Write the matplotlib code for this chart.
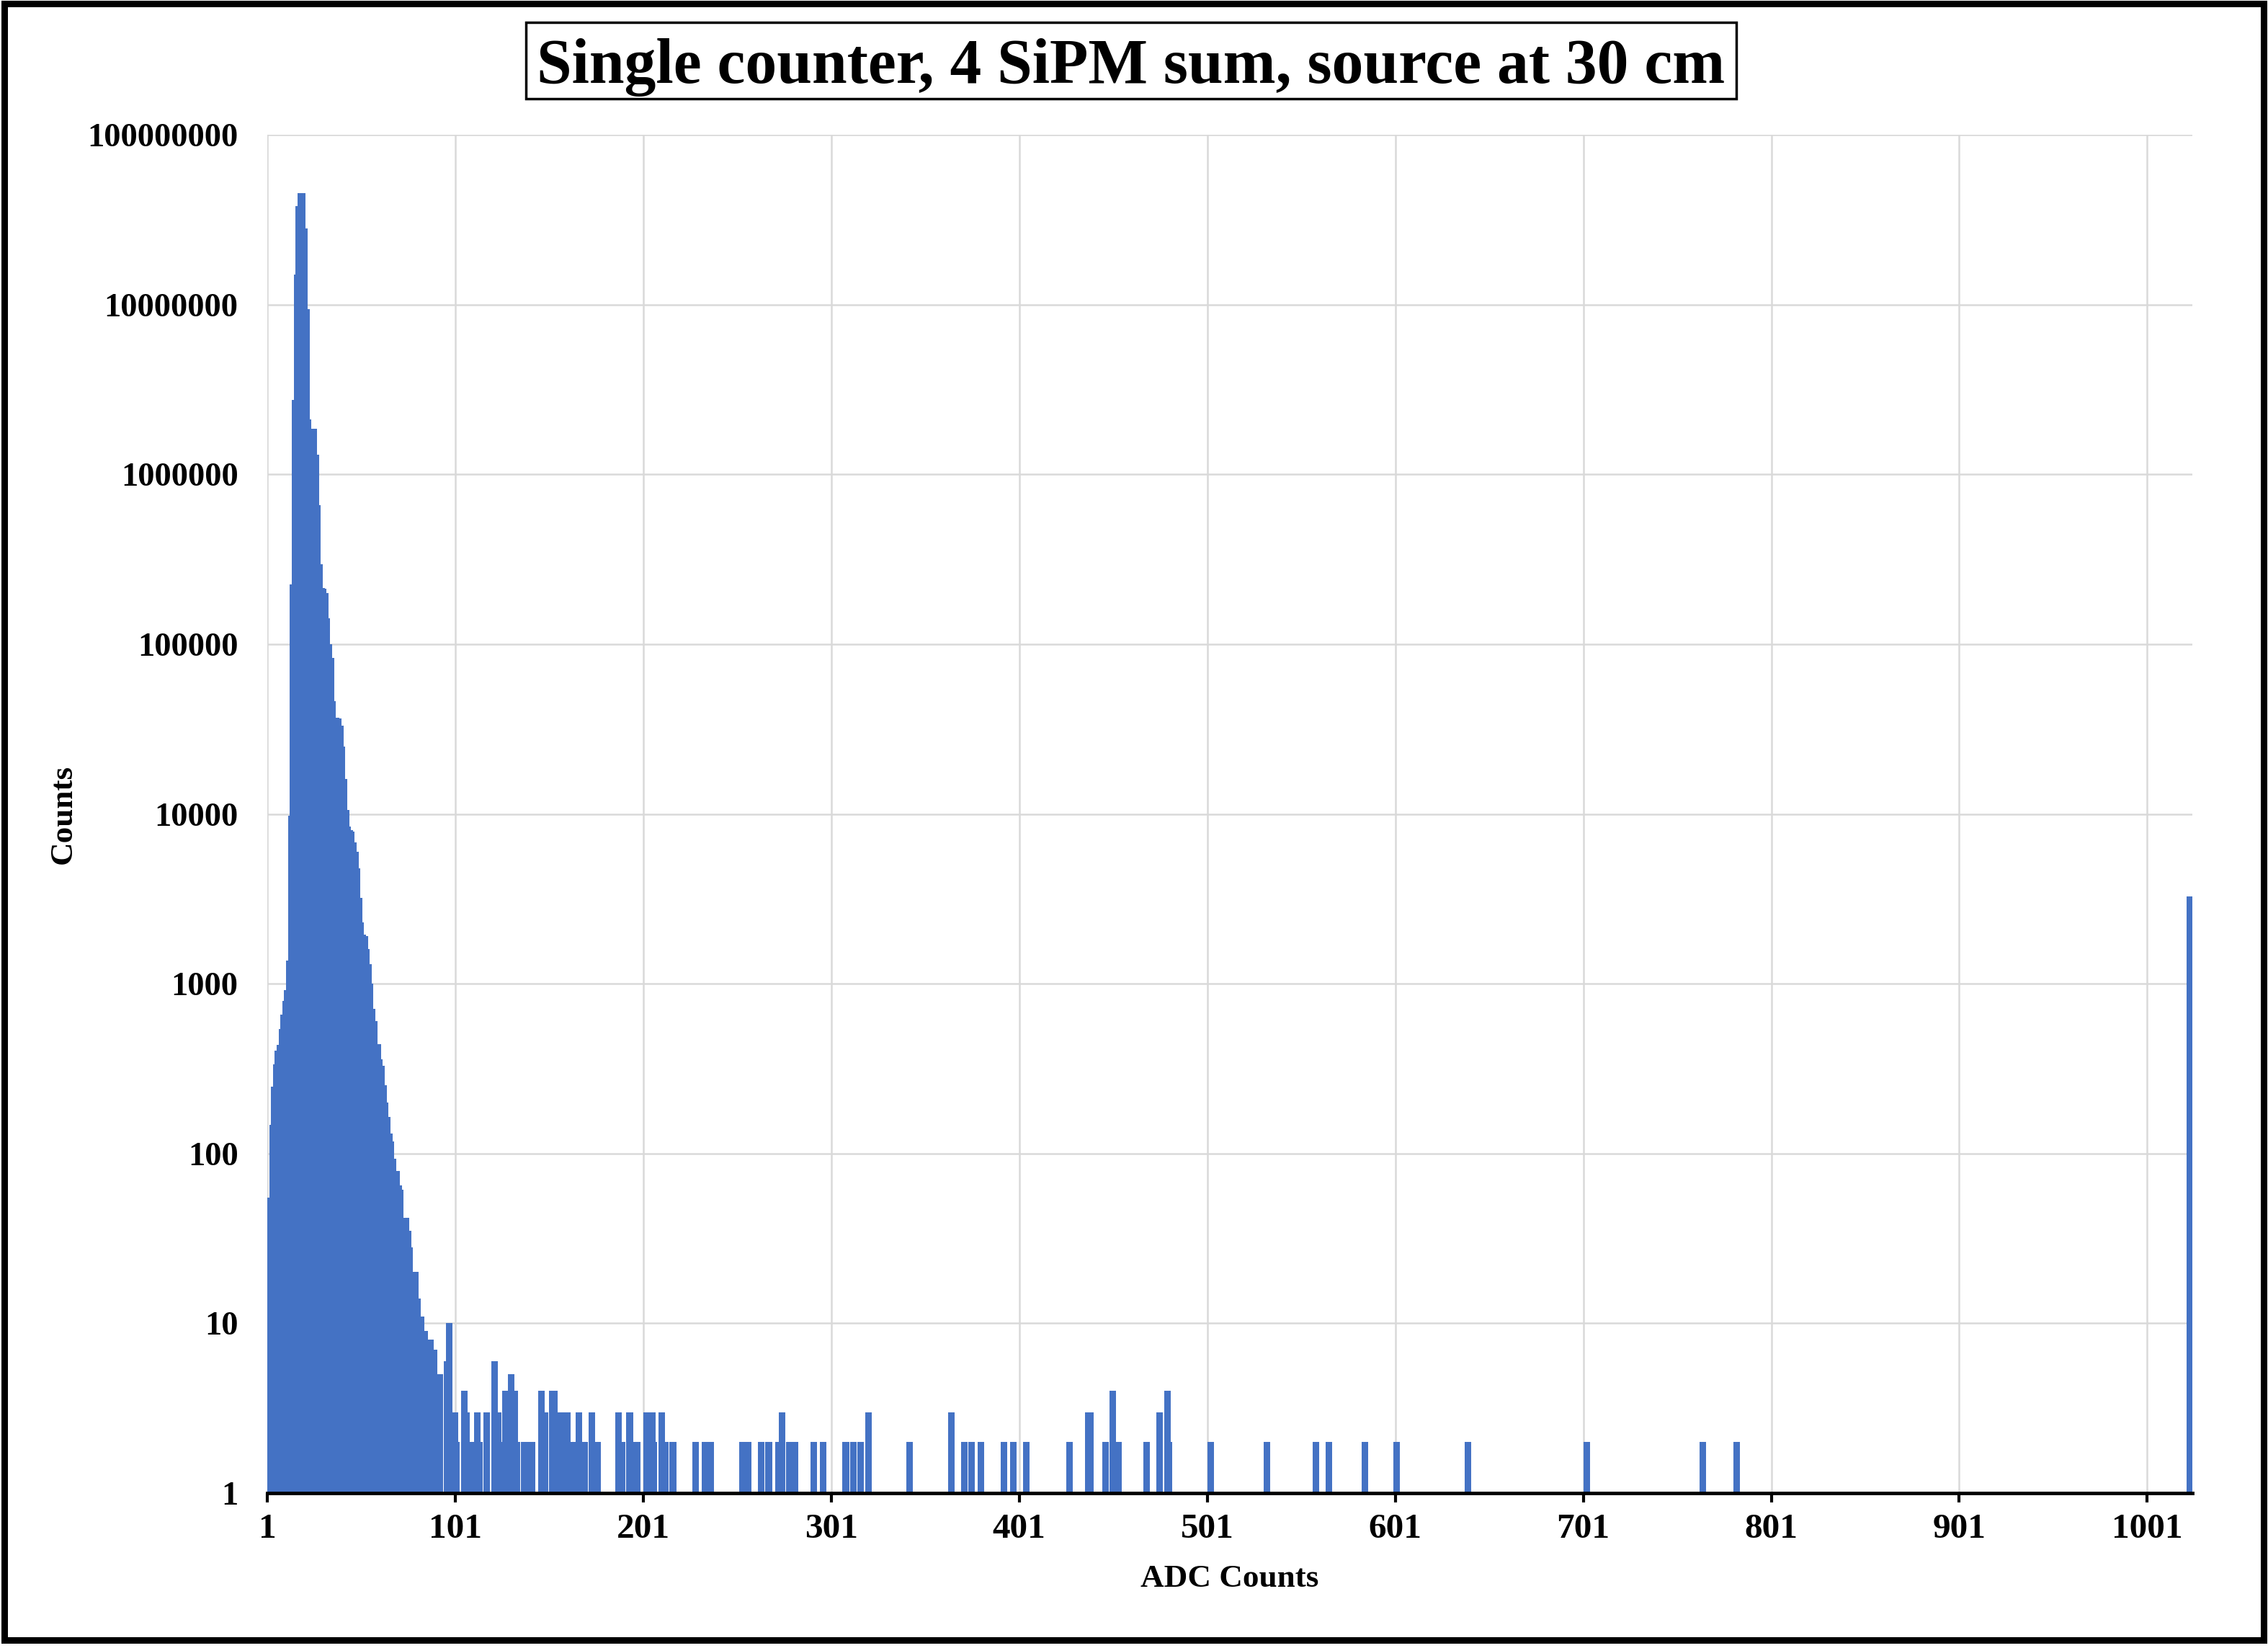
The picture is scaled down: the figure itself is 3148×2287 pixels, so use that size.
import matplotlib
matplotlib.use("Agg")
import matplotlib.pyplot as plt
import numpy as np
from matplotlib.patches import Rectangle
from matplotlib.ticker import NullLocator

plt.rcParams['font.family'] = ['Liberation Serif', 'DejaVu Serif']
plt.rcParams['font.weight'] = 'bold'

title = "Single counter, 4 SiPM sum, source at 30 cm"
x_label = "ADC Counts"
y_label = "Counts"

# counts in ADC bins 1..91 (dense part of the spectrum)
peak_counts = [55, 148, 248, 336, 403, 437, 540, 660, 790, 920,
               1370, 9800, 224000, 2740000, 15000000, 38000000, 45400000, 45400000, 28000000, 9400000,
               2100000, 1850000, 1850000, 1850000, 1310000, 660000, 296000, 214000, 212000, 200000,
               142000, 100000, 83000, 46000, 37000, 37000, 36500, 33000, 25000, 16000,
               10600, 8400, 8000, 7900, 6800, 6000, 4800, 3200, 2300, 1950,
               1900, 1600, 1300, 1000, 710, 600, 440, 440, 360, 330,
               253, 200, 164, 131, 118, 93, 79, 79, 65, 61,
               42, 42, 42, 35, 28, 20, 20, 20, 14, 11,
               11, 9, 9, 8, 8, 8, 7, 7, 5, 5,
               5]
peak_bins = list(range(1, len(peak_counts) + 1))

# sparse tail (bins with count 1 sit on the baseline and are left out)
tail_bins = [95, 96, 98, 99, 100, 104, 105, 108, 111, 112, 116, 120, 122, 123, 126, 129, 131, 132,
             136, 138, 140, 145, 147, 151, 152, 155, 157, 159, 162, 165, 168, 172, 175, 186, 188,
             192, 195, 196, 201, 204, 205, 209, 211, 215, 227, 232, 235, 252, 255, 262, 266, 271,
             273, 277, 280, 290, 295, 307, 311, 315, 319, 341, 363, 370, 374, 379, 391, 396, 403,
             426, 436, 437, 445, 449, 452, 467, 474, 478, 479, 501, 531, 557, 564, 583, 600, 638,
             701, 763, 781, 1022]
tail_counts = [6, 10, 3, 3, 2, 4, 3, 2, 3, 2, 3, 6, 3, 2, 4, 5, 4, 2,
               2, 2, 2, 4, 3, 4, 4, 3, 3, 3, 2, 3, 2, 3, 2, 3, 2,
               3, 2, 2, 3, 3, 2, 3, 2, 2, 2, 2, 2, 2, 2, 2, 2, 2,
               3, 2, 2, 2, 2, 2, 2, 2, 3, 2, 3, 2, 2, 2, 2, 2, 2,
               2, 3, 3, 2, 4, 2, 2, 3, 4, 2, 2, 2, 2, 2, 2, 2, 2,
               2, 2, 2, 3260]

x_ticks = [1, 101, 201, 301, 401, 501, 601, 701, 801, 901, 1001]
y_ticks = [1, 10, 100, 1000, 10000, 100000, 1000000, 10000000, 100000000]

W, H = 3148, 2287
fig = plt.figure(figsize=(W / 100, H / 100), dpi=100)
ax = fig.add_axes([371 / W, (H - 2072) / H, 2672 / W, 1885 / H])

bar_color = '#4472C4'
ax.bar(peak_bins, peak_counts, width=3.5, align='edge', color=bar_color, linewidth=0, zorder=2)
ax.bar(tail_bins, tail_counts, width=3.5, align='edge', color=bar_color, linewidth=0, zorder=2)

ax.set_yscale('log')
ax.set_ylim(1, 1e8)
ax.set_xlim(1, 1025)
ax.set_yticks(y_ticks)
ax.set_yticklabels([str(v) for v in y_ticks])
ax.yaxis.set_minor_locator(NullLocator())
ax.set_xticks(x_ticks)
ax.set_xticklabels([str(v) for v in x_ticks])

ax.set_axisbelow(True)
ax.grid(True, color='#d9d9d9', linewidth=1.8)
for side in ['left', 'top', 'right']:
    ax.spines[side].set_visible(False)
ax.spines['bottom'].set_linewidth(3.5)
ax.spines['bottom'].set_zorder(3)

ax.tick_params(axis='y', length=0, pad=29, labelsize=33.5)
ax.tick_params(axis='x', length=9, width=3, direction='out', pad=11, labelsize=35.5)
for lbl in ax.get_xticklabels() + ax.get_yticklabels():
    lbl.set_fontweight('bold')

fig.text(88 / W, 1 - 1130 / H, y_label, rotation=90, ha='center', va='center',
         fontsize=32.5, fontweight='bold')
fig.text(1707 / W, 1 - 2191 / H, x_label, ha='center', va='center',
         fontsize=32.5, fontweight='bold')

# title with its own box
fig.patches.append(Rectangle((730 / W, (H - 137) / H), 1680 / W, 106 / H,
                             transform=fig.transFigure, fill=False, edgecolor='black', linewidth=2.5))
fig.text(1570 / W, 1 - 115 / H, title, ha='center', va='baseline', fontsize=63, fontweight='bold')

# outer frame
fig.patches.append(Rectangle((6 / W, 11 / H), 3136 / W, 2271 / H,
                             transform=fig.transFigure, fill=False, edgecolor='black', linewidth=6.5))

fig.savefig('out.png', dpi=100)
